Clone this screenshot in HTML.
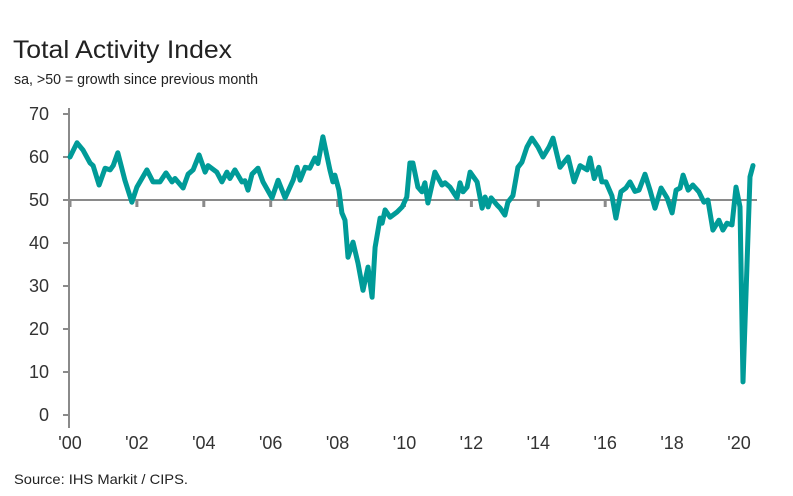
<!DOCTYPE html>
<html><head><meta charset="utf-8"><style>
body{margin:0;background:#fff;}
svg{display:block;font-family:"Liberation Sans",sans-serif;}
</style></head><body>
<svg id="c" width="793" height="496">
<text x="13" y="58" font-size="25" fill="#222" textLength="219" lengthAdjust="spacingAndGlyphs">Total Activity Index</text>
<text x="14" y="84" font-size="14.5" fill="#222" textLength="244" lengthAdjust="spacingAndGlyphs">sa, &gt;50 = growth since previous month</text>
<text x="14" y="484" font-size="14" fill="#222" textLength="174" lengthAdjust="spacingAndGlyphs">Source: IHS Markit / CIPS.</text>
<g id="axes"></g>
<g id="plot"></g>
</svg>
<script>
const dates=[2000.00,2000.21,2000.39,2000.60,2000.69,2000.87,2001.05,2001.20,2001.29,2001.43,2001.64,2001.85,2002.00,2002.30,2002.48,2002.69,2002.87,2003.05,2003.14,2003.38,2003.53,2003.68,2003.86,2004.04,2004.13,2004.39,2004.54,2004.69,2004.78,2004.93,2005.14,2005.23,2005.32,2005.44,2005.62,2005.77,2006.04,2006.22,2006.43,2006.67,2006.79,2006.88,2007.03,2007.17,2007.32,2007.41,2007.56,2007.77,2007.86,2007.92,2008.04,2008.13,2008.22,2008.31,2008.46,2008.61,2008.76,2008.91,2009.03,2009.12,2009.27,2009.33,2009.42,2009.57,2009.78,2009.93,2010.07,2010.16,2010.25,2010.40,2010.52,2010.61,2010.70,2010.91,2011.12,2011.21,2011.36,2011.57,2011.66,2011.75,2011.87,2011.96,2012.17,2012.32,2012.41,2012.50,2012.59,2012.77,2012.86,2013.00,2013.09,2013.24,2013.39,2013.51,2013.66,2013.81,2013.99,2014.14,2014.32,2014.44,2014.65,2014.89,2015.07,2015.25,2015.46,2015.55,2015.67,2015.81,2015.90,2016.02,2016.20,2016.32,2016.47,2016.62,2016.74,2016.89,2017.01,2017.19,2017.34,2017.49,2017.67,2017.85,2018.00,2018.12,2018.24,2018.33,2018.48,2018.62,2018.80,2018.95,2019.07,2019.22,2019.40,2019.52,2019.64,2019.79,2019.91,2020.03,2020.12,2020.24,2020.33,2020.42,2020.51];
const values=[60,63.3,61.6,58.6,58,53.5,57.4,57,58,61,54.6,49.5,53,57,54.2,54.2,56.3,54.2,55,52.8,56,57,60.5,56.5,58,56.5,54.2,56.5,55,57,54.2,54.5,52.3,56,57.4,54.2,50.5,54.6,50.5,54.6,57.6,54.6,57.6,57.4,59.8,58.5,64.7,57,54.2,55.8,52.3,47,45.3,36.7,40.2,35.3,29,34.4,27.4,39,45.8,44.6,47.7,46,47.2,48.4,50.7,58.6,58.6,53,51.9,54,49.3,56.5,53.5,54,53,50.5,54,51.9,53,56.5,54.2,48.1,50.7,48.4,50.5,48.8,48.1,46.5,49.5,51,57.6,58.8,62.3,64.4,62.3,60,62.3,64.4,57.6,60,54.2,58,57,59.8,55,57.6,54.2,54.2,51,45.8,51.9,52.8,54.2,52,52.3,56,52.3,48.1,52.8,50.5,47,52.3,52.8,55.8,52.3,53.5,51.9,49.5,50,43,45.3,43,44.6,44.2,53,48.4,7.7,35,55.4,58];
const yTicks=[0,10,20,30,40,50,60,70];
const xTickYears=[2000,2002,2004,2006,2008,2010,2012,2014,2016,2018,2020];
const xTickLabels=["'00","'02","'04","'06","'08","'10","'12","'14","'16","'18","'20"];
const NS="http://www.w3.org/2000/svg";
const X0=70,PX_YEAR=33.45,Y0=415,PX_UNIT=4.3;
function xs(t){return X0+(t-2000)*PX_YEAR;}
function ys(v){return Y0-v*PX_UNIT;}
function mk(tag,attrs,parent){const e=document.createElementNS(NS,tag);for(const k in attrs)e.setAttribute(k,attrs[k]);parent.appendChild(e);return e;}
const ax=document.getElementById('axes'),pl=document.getElementById('plot');
let e=mk('line',{x1:69,y1:108,x2:69,y2:428,stroke:'#8a8a8a','stroke-width':2},ax);


yTicks.forEach(v=>{
  let t=mk('line',{x1:63,y1:ys(v),x2:69,y2:ys(v),stroke:'#8a8a8a','stroke-width':2},ax);
  
  
  let l=mk('text',{x:49,y:ys(v)+6,'font-size':18,fill:'#333','text-anchor':'end'},ax);
  l.textContent=v;
  
  
});
e=mk('line',{x1:69,y1:ys(50),x2:757,y2:ys(50),stroke:'#8a8a8a','stroke-width':2},ax);


xTickYears.forEach((yr,i)=>{
  let t=mk('line',{x1:xs(yr),y1:ys(50),x2:xs(yr),y2:ys(50)+7,stroke:'#8a8a8a','stroke-width':3},ax);
  
  
  let l=mk('text',{x:xs(yr),y:449,'font-size':18,fill:'#333','text-anchor':'middle'},ax);
  l.textContent=xTickLabels[i];
  
  
});
const pts=dates.map((d,i)=>xs(d).toFixed(1)+','+ys(values[i]).toFixed(1)).join(' ');
const line=mk('polyline',{points:pts,fill:'none',stroke:'#009b98','stroke-width':5,'stroke-linejoin':'round','stroke-linecap':'round'},pl);


</script>
</body></html>
